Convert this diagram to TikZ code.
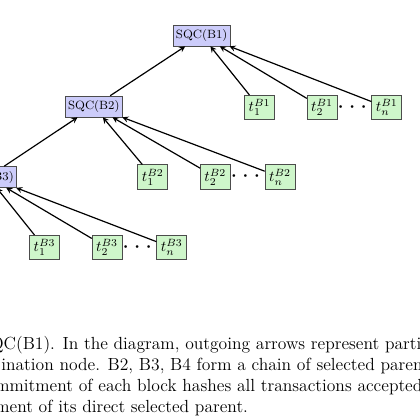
\documentclass[tikz,border=0pt]{standalone}
\usepackage{amsmath,amssymb}
\usepackage{xcolor}
\usepackage{tikz}
\usetikzlibrary{arrows,positioning,calc}
\definecolor{sqcblue}{RGB}{204,204,250}
\definecolor{txgreen}{RGB}{206,246,202}

\begin{document}
\begin{tikzpicture}[
    x=0.66667pt, y=-0.66667pt,
    node distance=21.3pt,
    sqc/.style={rectangle, draw=black!70, fill=sqcblue, minimum width=38pt, minimum height=14pt, inner sep=2pt, font=\fontsize{8}{9.6}\selectfont},
    tx/.style={rectangle, draw=black!70, fill=txgreen, minimum width=20pt, minimum height=16.3pt, inner sep=1pt, font=\fontsize{9.8}{11}\selectfont},
    dotsnode/.style={inner sep=0pt, font=\fontsize{16}{19}\selectfont},
    arrow/.style={->, >=stealth, thick},
    captionline/.style={anchor=base west, inner sep=0pt, font=\fontsize{11.7}{14}\selectfont}
]
\useasboundingbox (0,0) rectangle (420,420);
\clip (0,0) rectangle (420,420);

% Chain of selected parents
\node[sqc] (b1) at (201.7,35.5) {SQC(B1)};
\node[sqc] (b2) at (93.8,106.5) {SQC(B2)};
\node[sqc] (b3) at (-12,177) {SQC(B3)};

% Transactions of B1
\node[tx] (t1b1) at (259.5,107.5) {$t_1^{B1}$};
\node[tx, right=of t1b1] (t2b1) {$t_2^{B1}$};
\node[tx, right=22.7pt of t2b1] (tnb1) {$t_n^{B1}$};
\node[dotsnode] (dotsb1) at ($(t2b1)!0.5!(tnb1)$) {$\cdots$};

% Transactions of B2
\node[tx] (t1b2) at (152.8,177) {$t_1^{B2}$};
\node[tx, right=of t1b2] (t2b2) {$t_2^{B2}$};
\node[tx, right=22.7pt of t2b2] (tnb2) {$t_n^{B2}$};
\node[dotsnode] (dotsb2) at ($(t2b2)!0.5!(tnb2)$) {$\cdots$};

% Transactions of B3
\node[tx] (t1b3) at (44.5,247.5) {$t_1^{B3}$};
\node[tx, right=of t1b3] (t2b3) {$t_2^{B3}$};
\node[tx, right=22.7pt of t2b3] (tnb3) {$t_n^{B3}$};
\node[dotsnode] (dotsb3) at ($(t2b3)!0.5!(tnb3)$) {$\cdots$};

% Arrows
\draw[arrow] (b2) -- (b1);
\draw[arrow] (b3) -- (b2);
\draw[arrow] (t1b1) -- (b1);
\draw[arrow] (t2b1) -- (b1);
\draw[arrow] (tnb1) -- (b1);
\draw[arrow] (t1b2) -- (b2);
\draw[arrow] (t2b2) -- (b2);
\draw[arrow] (tnb2) -- (b2);
\draw[arrow] (t1b3) -- (b3);
\draw[arrow] (t2b3) -- (b3);
\draw[arrow] (tnb3) -- (b3);

% Caption text
\node[captionline] (cap1) at (-10,349) {QC(B1). In the diagram, outgoing arrows represent parti};
\node[captionline] (cap2) at (1,370) {ination node. B2, B3, B4 form a chain of selected parent};
\node[captionline] (cap3) at (-5,391) {mmitment of each block hashes all transactions accepted};
\node[captionline] (cap4) at (-5,412) {ment of its direct selected parent.};

\end{tikzpicture}
\end{document}
